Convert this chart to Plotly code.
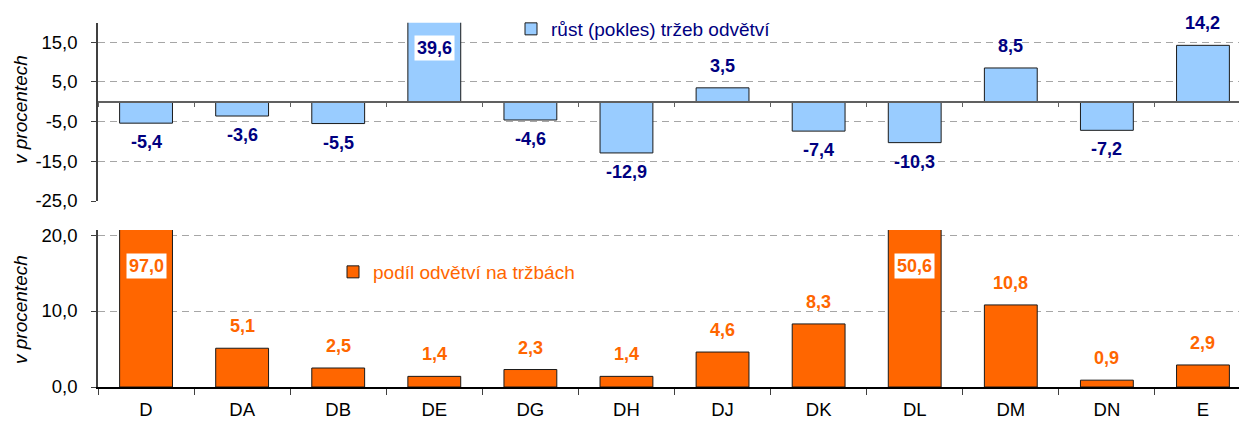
import plotly.graph_objects as go

categories = ["D", "DA", "DB", "DE", "DG", "DH", "DJ", "DK", "DL", "DM", "DN", "E"]
growth = [-5.4, -3.6, -5.5, 39.6, -4.6, -12.9, 3.5, -7.4, -10.3, 8.5, -7.2, 14.2]
share = [97.0, 5.1, 2.5, 1.4, 2.3, 1.4, 4.6, 8.3, 50.6, 10.8, 0.9, 2.9]
growth_name = "růst (pokles) tržeb odvětví"
share_name = "podíl odvětví na tržbách"
top_ticks = [-25, -15, -5, 5, 15]
bottom_ticks = [0, 10, 20]
y_title = "v procentech"

W, H = 1239, 422
ML, MB = 98, 35
PW = W - ML
PH = H - MB  # plot height in px

def fy(px):
    return (PH - px) / PH

def fx(px):
    return (px - ML) / PW

FONT = "Liberation Sans, Arial, sans-serif"
NAVY = "#000080"
ORANGE = "#FF6600"
BLUE = "#99CCFF"
GRID = "#A6A6A6"
TICK_SIZE = 18.5
LABEL_SIZE = 18
LEGEND_SIZE = 19

top_range = [-25, 19.9]
bot_range = [0, 20.66]
top_dom = [fy(201), fy(22.7)]
bot_dom = [0, fy(230)]
zero_pos = top_dom[0] + (0 - top_range[0]) / (top_range[1] - top_range[0]) * (top_dom[1] - top_dom[0])

def fmt(v):
    return f"{v:.1f}".replace(".", ",")

fig = go.Figure()
fig.add_trace(go.Bar(
    x=categories, y=growth, name=growth_name, xaxis="x", yaxis="y",
    marker=dict(color=BLUE, line=dict(color="#1a1a1a", width=1)),
    width=0.55, legend="legend",
))
fig.add_trace(go.Bar(
    x=categories, y=share, name=share_name, xaxis="x2", yaxis="y2",
    marker=dict(color=ORANGE, line=dict(color="#1a1a1a", width=1)),
    width=0.55, legend="legend2",
))

annotations = []
for c, v in zip(categories, growth):
    if v > top_range[1]:
        annotations.append(dict(x=c, y=top_range[1], xref="x", yref="y", text=f"<b>{fmt(v)}</b>",
                                showarrow=False, yanchor="middle", yshift=-25,
                                bgcolor="white", borderpad=2,
                                font=dict(family=FONT, size=LABEL_SIZE, color=NAVY)))
    else:
        annotations.append(dict(x=c, y=v, xref="x", yref="y", text=f"<b>{fmt(v)}</b>",
                                showarrow=False, yanchor="middle", yshift=22 if v >= 0 else -19,
                                font=dict(family=FONT, size=LABEL_SIZE, color=NAVY)))
for c, v in zip(categories, share):
    if v > bot_range[1]:
        annotations.append(dict(x=c, y=bot_range[1], xref="x2", yref="y2", text=f"<b>{fmt(v)}</b>",
                                showarrow=False, yanchor="middle", yshift=-36,
                                bgcolor="white", borderpad=2,
                                font=dict(family=FONT, size=LABEL_SIZE, color=ORANGE)))
    else:
        annotations.append(dict(x=c, y=v, xref="x2", yref="y2", text=f"<b>{fmt(v)}</b>",
                                showarrow=False, yanchor="middle", yshift=22,
                                font=dict(family=FONT, size=LABEL_SIZE, color=ORANGE)))

# y-axis titles
for ycenter in (110, 310):
    annotations.append(dict(x=fx(20), y=fy(ycenter), xref="paper", yref="paper",
                            text=f"<i>{y_title}</i>", showarrow=False, textangle=-90,
                            xanchor="center", yanchor="middle",
                            font=dict(family=FONT, size=LEGEND_SIZE, color="black")))

axis_common = dict(showgrid=True, gridcolor=GRID, griddash="7px,5px", gridwidth=1,
                   showline=True, linecolor="#404040", linewidth=1.5,
                   ticks="outside", ticklen=5, tickcolor="#404040", zeroline=False,
                   ticklabelstandoff=10,
                   tickfont=dict(family=FONT, size=TICK_SIZE, color="black"))

fig.update_layout(
    width=W, height=H,
    margin=dict(l=ML, r=0, t=0, b=MB, autoexpand=False),
    plot_bgcolor="white", paper_bgcolor="white",
    barmode="group",
    annotations=annotations,
    xaxis=dict(type="category", categoryorder="array", categoryarray=categories,
               domain=[0, 1], range=[-0.5, 11.375], anchor="free", position=zero_pos,
               showline=True, linecolor="#606060", linewidth=1.5, ticks="outside",
               tickson="boundaries", ticklen=5, tickcolor="#606060",
               showticklabels=False, showgrid=False, zeroline=False),
    xaxis2=dict(type="category", categoryorder="array", categoryarray=categories,
                domain=[0, 1], range=[-0.5, 11.375], anchor="y2",
                showline=True, linecolor="black", linewidth=1.5, ticks="outside",
                tickson="boundaries", ticklen=6, tickcolor="#404040",
                showgrid=False, zeroline=False, ticklabelstandoff=5,
                tickfont=dict(family=FONT, size=TICK_SIZE, color="black")),
    yaxis=dict(domain=top_dom, range=top_range, anchor="x", tickmode="array",
               tickvals=top_ticks, ticktext=[fmt(t) for t in top_ticks], **axis_common),
    yaxis2=dict(domain=bot_dom, range=bot_range, anchor="x2", tickmode="array",
                tickvals=bottom_ticks, ticktext=[fmt(t) for t in bottom_ticks], **axis_common),
    legend=dict(x=511 / W, y=1 - 29 / H, xref="container", yref="container",
                xanchor="left", yanchor="middle", bgcolor="rgba(0,0,0,0)",
                font=dict(family=FONT, size=LEGEND_SIZE, color=NAVY)),
    legend2=dict(x=333 / W, y=1 - 272 / H, xref="container", yref="container",
                 xanchor="left", yanchor="middle", bgcolor="rgba(0,0,0,0)",
                 font=dict(family=FONT, size=LEGEND_SIZE, color=ORANGE)),
    showlegend=True,
)

fig.write_html("out.html", config={"displayModeBar": False},
               post_script="document.body.style.margin='0';document.body.style.overflow='hidden';")
